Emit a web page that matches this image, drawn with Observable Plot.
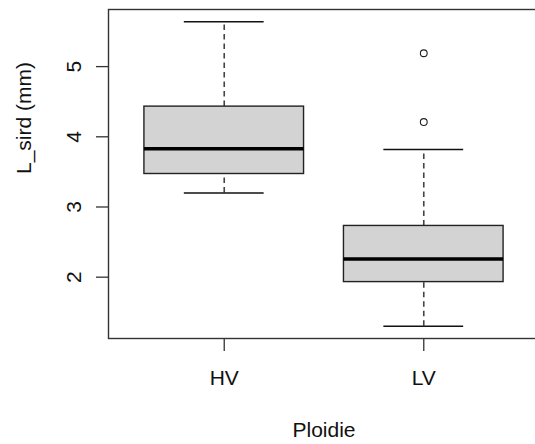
<!DOCTYPE html>
<html>
<head>
<meta charset="utf-8">
<script src="https://cdn.jsdelivr.net/npm/d3@7"></script>
<script src="https://cdn.jsdelivr.net/npm/@observablehq/plot@0.6"></script>
<style>
  html, body { margin: 0; padding: 0; overflow: hidden; background: #fff; }
  #chart { width: 535px; height: 444px; overflow: hidden; }
</style>
</head>
<body>
<div id="chart"></div>
<script>
// ---- data ----
const groups = ["HV", "LV"];
const lowerWhisker = [3.20, 1.30];
const lowerQuartile = [3.47, 1.93];
const medians = [3.83, 2.26];
const upperQuartile = [4.43, 2.73];
const upperWhisker = [5.64, 3.82];
const outlierGroups = ["LV", "LV"];
const outlierValues = [5.19, 4.21];
const yTicks = [2, 3, 4, 5];
const xLabel = "Ploidie";
const yLabel = "L_sird (mm)";

// ---- tables built from the arrays ----
const boxes = groups.map((g, i) => ({
  group: g, pos: i + 1,
  lo: lowerWhisker[i], q1: lowerQuartile[i], med: medians[i],
  q3: upperQuartile[i], hi: upperWhisker[i]
}));
const outliers = outlierValues.map((v, i) => ({pos: groups.indexOf(outlierGroups[i]) + 1, value: v}));

// R-style axis extents (4% padding)
const xlo = 0.5, xhi = groups.length + 0.5, xpad = (xhi - xlo) * 0.04;
const allY = [...lowerWhisker, ...upperWhisker, ...outlierValues];
const ymin = d3.min(allY), ymax = d3.max(allY), ypad = (ymax - ymin) * 0.04;

const boxW = 0.4, capW = 0.2;
const font = "'Liberation Sans', Arial, sans-serif";

const chart = Plot.plot({
  width: 539,
  height: 444,
  marginLeft: 108,
  marginRight: 0,
  marginTop: 9,
  marginBottom: 106,
  style: {fontFamily: font, fontSize: "21px", color: "#000", maxWidth: "none", background: "#fff"},
  x: {type: "linear", domain: [xlo - xpad, xhi + xpad]},
  y: {domain: [ymin - ypad, ymax + ypad]},
  marks: [
    // whiskers (dashed)
    Plot.ruleX(boxes, {x: "pos", y1: "q3", y2: "hi", stroke: "#444", strokeWidth: 1.6, strokeDasharray: "5.5,4"}),
    Plot.ruleX(boxes, {x: "pos", y1: "lo", y2: "q1", stroke: "#444", strokeWidth: 1.6, strokeDasharray: "5.5,4"}),
    // whisker caps
    Plot.ruleY(boxes, {y: "hi", x1: d => d.pos - capW, x2: d => d.pos + capW, stroke: "#111", strokeWidth: 1.6}),
    Plot.ruleY(boxes, {y: "lo", x1: d => d.pos - capW, x2: d => d.pos + capW, stroke: "#111", strokeWidth: 1.6}),
    // boxes
    Plot.rect(boxes, {x1: d => d.pos - boxW, x2: d => d.pos + boxW, y1: "q1", y2: "q3", fill: "#d3d3d3", stroke: "#222", strokeWidth: 1.4}),
    // medians
    Plot.ruleY(boxes, {y: "med", x1: d => d.pos - boxW, x2: d => d.pos + boxW, stroke: "#000", strokeWidth: 3.6}),
    // outliers
    Plot.dot(outliers, {x: "pos", y: "value", r: 3.4, stroke: "#222", strokeWidth: 1.1, fill: "none"}),
    // frame
    Plot.frame({stroke: "#333", strokeWidth: 1.4}),
    // axes
    Plot.axisY(yTicks, {
      tickSize: 12, tickPadding: 16, stroke: "#333", strokeWidth: 1.3,
      tickRotate: -90, textAnchor: "middle", lineAnchor: "bottom",
      tickFormat: d => String(d), fontSize: 21, fill: "#111", label: null
    }),
    Plot.axisX([1, 2], {
      tickSize: 13, tickPadding: 19, stroke: "#333", strokeWidth: 1.3,
      tickFormat: i => groups[i - 1], fontSize: 21, fill: "#111", label: null
    }),
    // axis titles
    Plot.text([xLabel], {text: d => d, frameAnchor: "bottom", lineAnchor: "bottom", dy: 98, fontSize: 21, fill: "#111"}),
    Plot.text([yLabel], {text: d => d, frameAnchor: "left", lineAnchor: "bottom", rotate: -90, dx: -78, fontSize: 21, fill: "#111"})
  ]
});
document.getElementById("chart").appendChild(chart);
</script>
</body>
</html>
